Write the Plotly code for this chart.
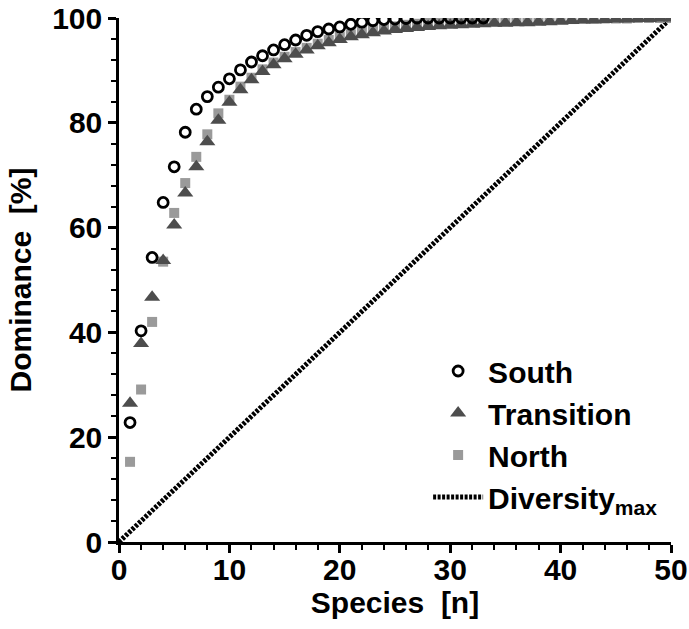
import plotly.graph_objects as go

# Cumulative dominance curves (k-dominance) for three regions
species = list(range(1, 51))

south = [22.8, 40.3, 54.3, 64.8, 71.6, 78.2, 82.6, 85.0, 86.8, 88.4,
         90.1, 91.6, 92.8, 93.9, 94.9, 95.8, 96.7, 97.4, 97.9, 98.3,
         98.8, 99.2, 99.5, 99.7, 99.8, 99.9, 100.0, 100.0, 100.0, 100.0,
         100.0, 100.0, 100.0]

transition = [26.5, 37.9, 46.7, 53.7, 60.5, 66.6, 71.6, 76.4, 80.5, 83.9,
              86.3, 88.2, 89.8, 91.1, 92.2, 93.1, 93.9, 94.7, 95.3, 95.9,
              96.4, 96.8, 97.2, 97.5, 97.8, 98.0, 98.2, 98.4, 98.5, 98.6,
              98.7, 98.8, 98.9, 99.0, 99.0, 99.1, 99.1, 99.2, 99.3, 99.4,
              99.5, 99.6, 99.6, 99.7, 99.8, 99.8, 99.9, 99.9, 100.0, 100.0]

north = [15.3, 29.1, 42.0, 53.5, 62.8, 68.5, 73.5, 77.8, 81.8, 84.4,
         86.9, 88.6, 90.2, 91.5, 92.6, 93.5, 94.3, 95.1, 95.8, 96.4,
         96.9, 97.4, 97.8, 98.1, 98.4, 98.7, 98.9, 99.1, 99.3, 99.4,
         99.5, 99.5, 99.6, 99.6, 99.7, 99.7, 99.7, 99.8, 99.8, 99.8,
         99.8, 99.9, 99.9, 99.9, 99.9, 99.9, 100.0, 100.0, 100.0, 100.0]

# Maximum diversity: all species equally abundant
diversity_x = [0, 50]
diversity_y = [0, 100]

FONT = "Liberation Sans"
TEXT_SIZE = 30

fig = go.Figure()

fig.add_trace(go.Scatter(
    x=diversity_x, y=diversity_y, mode="lines",
    name="Diversity<sub>max</sub>", legendrank=4, legendgroup="d",
    line=dict(color="#000000", width=5, dash="3px,1.5px"),
))
fig.add_trace(go.Scatter(
    x=species[:len(north)], y=north, mode="markers",
    name="North", legendrank=3, legendgroup="n",
    marker=dict(symbol="square", size=10, color="#9a9a9a",
                line=dict(width=0)),
))
fig.add_trace(go.Scatter(
    x=species[:len(transition)], y=transition, mode="markers",
    name="Transition", legendrank=2, legendgroup="t",
    marker=dict(symbol="triangle-up", size=14, color="#4d4d4d",
                line=dict(width=0)),
))
fig.add_trace(go.Scatter(
    x=species[:len(south)], y=south, mode="markers",
    name="South", legendrank=1, legendgroup="s",
    marker=dict(symbol="circle-open", size=10, color="#000000",
                line=dict(width=2.8, color="#000000")),
))

axis_common = dict(
    showgrid=False, zeroline=False, showline=True, automargin=False,
    linecolor="black", linewidth=2.5,
    ticks="outside", ticklen=8, tickwidth=2.5, tickcolor="black",
    tickfont=dict(family=FONT, size=TEXT_SIZE, color="black", weight="bold"),
)

fig.update_layout(
    width=689, height=629,
    margin=dict(l=119, r=18, t=18, b=87),
    paper_bgcolor="white", plot_bgcolor="white",
    showlegend=True,
    legend=dict(
        x=0.56, y=0.376, xanchor="left", yanchor="top",
        font=dict(family=FONT, size=TEXT_SIZE, color="black", weight="bold"),
        bgcolor="rgba(0,0,0,0)", tracegroupgap=0,
        itemwidth=50, itemsizing="trace",
    ),
    xaxis=dict(
        range=[0, 50], dtick=10, tick0=0,
        ticklabelstandoff=-9,
        minor=dict(dtick=2, ticks="outside", ticklen=5, tickwidth=2,
                   tickcolor="black"),
        title=dict(text="Species  [n]", standoff=4,
                   font=dict(family=FONT, size=TEXT_SIZE, color="black",
                             weight="bold")),
        **axis_common,
    ),
    yaxis=dict(
        range=[0, 100], dtick=20, tick0=0,
        minor=dict(dtick=4, ticks="outside", ticklen=5, tickwidth=2,
                   tickcolor="black"),
        title=dict(text="Dominance  [%]", standoff=12,
                   font=dict(family=FONT, size=TEXT_SIZE, color="black",
                             weight="bold")),
        **axis_common,
    ),
)

fig.write_html("out.html")
